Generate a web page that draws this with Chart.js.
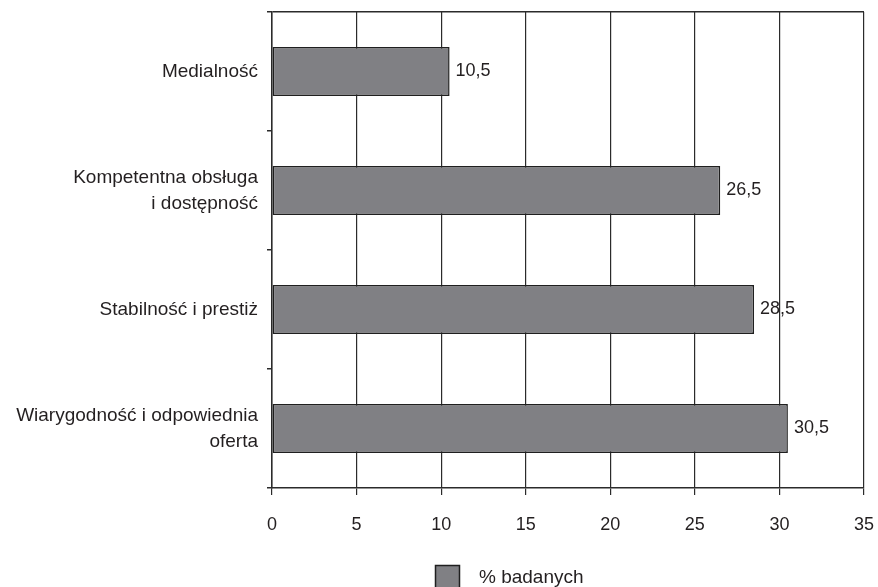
<!DOCTYPE html>
<html>
<head>
<meta charset="utf-8">
<script src="https://cdn.jsdelivr.net/npm/chart.js@4.4.1/dist/chart.umd.min.js"></script>
<style>
  html, body { margin: 0; padding: 0; background: #fff; }
  #box { width: 878px; height: 587px; }
</style>
</head>
<body>
<div id="box"><canvas id="chart"></canvas></div>
<script>
// data
const categories = [
  ['Medialność'],
  ['Kompetentna obsługa', 'i dostępność'],
  ['Stabilność i prestiż'],
  ['Wiarygodność i odpowiednia', 'oferta']
];
const values = [10.5, 26.5, 28.5, 30.5];
const seriesName = '% badanych';
const xMin = 0, xMax = 35, xStep = 5;

const FONT = "'Liberation Sans', Arial, sans-serif";
const TEXT = '#231f20';
const LINE = '#2b2b2b';
const BAR = '#808084';

const fmt = v => String(v).replace('.', ',');

// value labels at bar ends
const valueLabels = {
  id: 'valueLabels',
  afterDatasetsDraw(chart) {
    const ctx = chart.ctx;
    const meta = chart.getDatasetMeta(0);
    ctx.save();
    ctx.font = '18px ' + FONT;
    ctx.fillStyle = TEXT;
    ctx.textAlign = 'left';
    ctx.textBaseline = 'middle';
    meta.data.forEach((bar, i) => {
      ctx.fillText(fmt(values[i]), bar.x + 6, bar.y);
    });
    ctx.restore();
  }
};

// legend drawn under the axis, like the original
const bottomLegend = {
  id: 'bottomLegend',
  afterDraw(chart) {
    const ctx = chart.ctx;
    const ds = chart.data.datasets[0];
    ctx.save();
    ctx.fillStyle = ds.backgroundColor;
    ctx.strokeStyle = ds.borderColor;
    ctx.lineWidth = 1.5;
    ctx.fillRect(435.5, 565.5, 24, 24);
    ctx.strokeRect(435.5, 565.5, 24, 24);
    ctx.font = '19px ' + FONT;
    ctx.fillStyle = TEXT;
    ctx.textBaseline = 'alphabetic';
    ctx.fillText(ds.label, 479, 583);
    ctx.restore();
  }
};

new Chart(document.getElementById('chart'), {
  type: 'bar',
  data: {
    labels: categories,
    datasets: [{
      label: seriesName,
      data: values,
      backgroundColor: BAR,
      borderColor: '#1f1f1f',
      borderWidth: 1.5,
      borderSkipped: false,
      barPercentage: 0.41,
      categoryPercentage: 1
    }]
  },
  options: {
    indexAxis: 'y',
    responsive: true,
    maintainAspectRatio: false,
    animation: false,
    layout: { padding: { top: 12, right: 14, bottom: 47, left: 0 } },
    plugins: {
      legend: { display: false },
      tooltip: { enabled: false }
    },
    scales: {
      x: {
        min: xMin,
        max: xMax,
        afterFit(scale) {
          scale.height = 52;
          scale.paddingLeft = 0;
          scale.paddingRight = 0;
        },
        ticks: {
          stepSize: xStep,
          color: TEXT,
          padding: 19,
          font: { family: FONT, size: 18 }
        },
        grid: {
          color: LINE,
          lineWidth: 1.2,
          tickLength: 7,
          tickColor: LINE
        },
        border: { color: LINE, width: 1.5 }
      },
      y: {
        afterFit(scale) {
          scale.width = 272;
          scale.paddingTop = 0;
          scale.paddingBottom = 0;
        },
        ticks: {
          color: TEXT,
          padding: 9,
          font: { family: FONT, size: 19, lineHeight: 1.35 }
        },
        grid: {
          offset: true,
          tickLength: 5,
          tickColor: LINE,
          lineWidth: 1.5,
          color: ctx => (ctx.index === 0 || ctx.index === categories.length) ? LINE : 'rgba(0,0,0,0)'
        },
        border: { color: LINE, width: 1.5 }
      }
    }
  },
  plugins: [valueLabels, bottomLegend]
});
</script>
</body>
</html>
